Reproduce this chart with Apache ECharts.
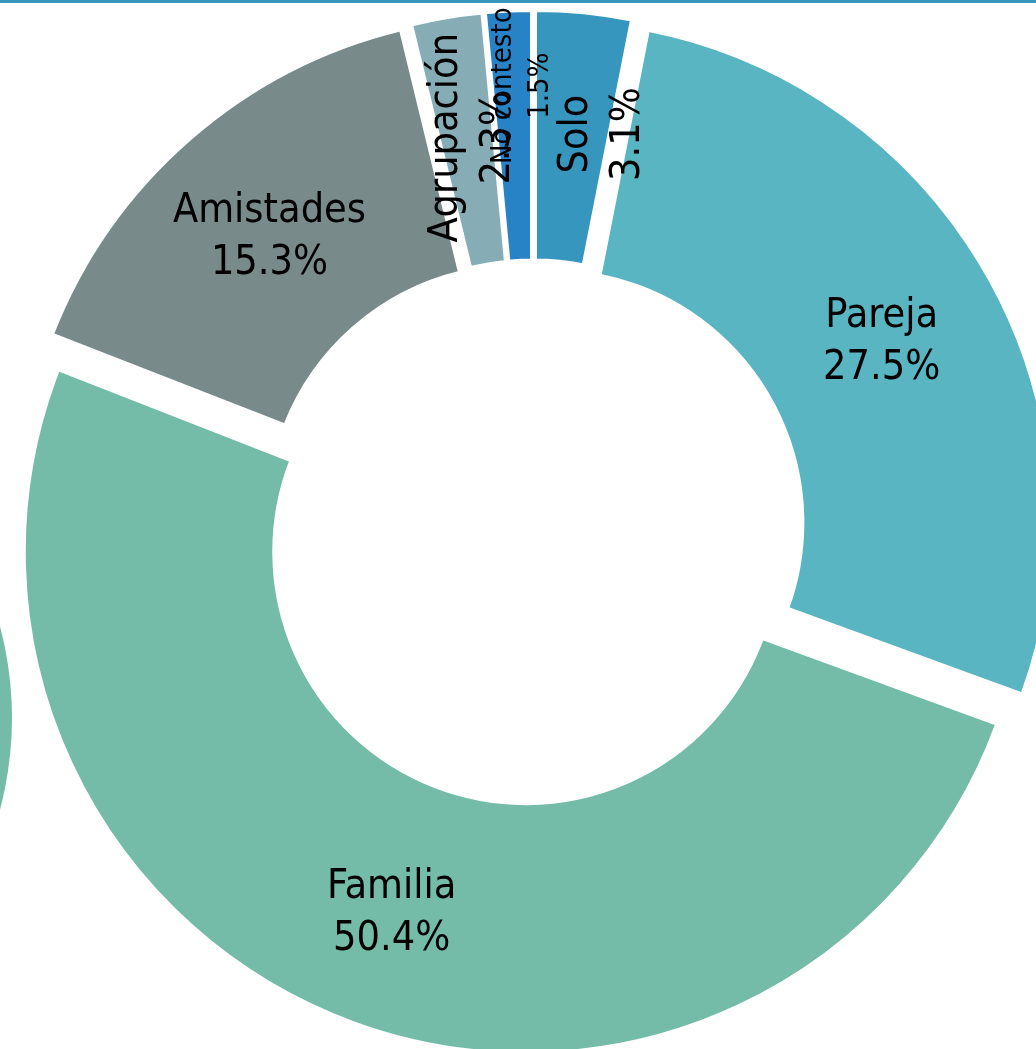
<!DOCTYPE html>
<html>
<head>
<meta charset="utf-8">
<script src="https://cdn.jsdelivr.net/npm/echarts@6/dist/echarts.min.js"></script>
<style>
  html, body { margin: 0; padding: 0; background: #fff; }
  #chart { width: 1036px; height: 1049px; }
</style>
</head>
<body>
<div id="chart"></div>
<script>
// categorias y porcentajes (sentido horario desde las 12)
const categorias = ['Solo', 'Pareja', 'Familia', 'Amistades', 'Agrupación', 'No contesto'];
const porcentajes = [3.1, 27.5, 50.4, 15.3, 2.3, 1.5];
const colores = ['#3696bd', '#58b5c1', '#74bca8', '#798a8a', '#86acb5', '#2882c6'];

const fuente = "'DejaVu Sans Condensed', 'DejaVu Sans', sans-serif";

// etiquetas giradas para las porciones chicas (tamaño de letra)
const girados = { 'Solo': 41, 'Agrupación': 41, 'No contesto': 29 };
// corrimiento en pantalla [x, y]
const ajustes = { 'Solo': [30, 0], 'Agrupación': [6, 0], 'No contesto': [8, -47] };

const chart = echarts.init(document.getElementById('chart'));

const datos = categorias.map(function (nombre, i) {
    const item = {
        name: nombre,
        value: porcentajes[i],
        selected: true,
        itemStyle: { color: colores[i] }
    };
    if (girados[nombre]) {
        item.label = {
            rotate: 90,
            fontSize: girados[nombre],
            lineHeight: Math.round(girados[nombre] * 1.28)
        };
    }
    return item;
});

const option = {
    animation: false,
    graphic: [
        { type: 'rect', shape: { x: 0, y: 0, width: 1036, height: 3 }, style: { fill: '#3797bd' }, z: 10 },
        { type: 'circle', shape: { cx: -343, cy: 718, r: 355 }, style: { fill: '#74bca8' } }
    ],
    series: [
        {
            type: 'pie',
            center: [533, 532.5],
            radius: [251.5, 502],
            startAngle: 90,
            clockwise: true,
            selectedMode: 'multiple',
            selectedOffset: 20.5,
            avoidLabelOverlap: false,
            emphasis: { disabled: true },
            itemStyle: { borderColor: '#fff', borderWidth: 4 },
            label: {
                show: true,
                position: 'inside',
                formatter: '{b}\n{c}%',
                color: '#000',
                fontFamily: fuente,
                fontSize: 41,
                lineHeight: 52
            },
            labelLine: { show: false },
            labelLayout: function (p) {
                const a = ajustes[categorias[p.dataIndex]];
                // las etiquetas giradas 90° usan ejes locales: dx hacia arriba, dy hacia la derecha
                if (a) return { dx: -a[1], dy: a[0] };
                return { dy: 6 };
            },
            data: datos
        }
    ]
};

chart.setOption(option);
</script>
</body>
</html>
